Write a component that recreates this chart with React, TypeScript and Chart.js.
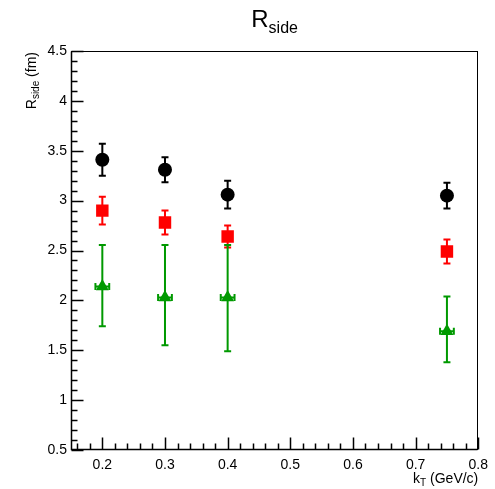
import { useEffect, useRef } from 'react';
import { Chart, registerables } from 'chart.js';

Chart.register(...registerables);

const kT = [0.2, 0.3, 0.4, 0.75];

const blackR = [3.41, 3.31, 3.06, 3.05];
const blackErr = [0.16, 0.125, 0.14, 0.13];

const redR = [2.9, 2.78, 2.64, 2.49];
const redErr = [0.14, 0.12, 0.11, 0.12];

const greenR = [2.14, 2.03, 2.03, 1.69];
const greenErrLow = [0.4, 0.48, 0.54, 0.31];
const greenErrHigh = [0.415, 0.525, 0.525, 0.35];
const greenXErr = [0.011, 0.011, 0.011, 0.011];

const xTicks = [0.2, 0.3, 0.4, 0.5, 0.6, 0.7, 0.8];
const yTicks = [0.5, 1, 1.5, 2, 2.5, 3, 3.5, 4, 4.5];
const xMinorStep = 0.02;
const yMinorStep = 0.1;

const FONT = '"Liberation Sans", Arial, Helvetica, sans-serif';

const fmt = (v: number) => String(parseFloat(v.toFixed(3)));

const rootPlugin = {
  id: 'rootStyle',
  beforeDatasetsDraw(chart: any) {
    const ctx = chart.ctx;
    const xs = chart.scales.x;
    const ys = chart.scales.y;
    chart.data.datasets.forEach((ds: any) => {
      const lo: number[] = ds.errLow;
      const hi: number[] = ds.errHigh;
      const xe: number[] | undefined = ds.xErr;
      ctx.save();
      ctx.strokeStyle = ds.borderColor;
      ctx.lineWidth = 2;
      ds.data.forEach((p: any, i: number) => {
        const px = xs.getPixelForValue(p.x);
        const py = ys.getPixelForValue(p.y);
        const pTop = ys.getPixelForValue(p.y + hi[i]);
        const pBot = ys.getPixelForValue(p.y - lo[i]);
        ctx.beginPath();
        ctx.moveTo(px, pTop);
        ctx.lineTo(px, pBot);
        ctx.moveTo(px - 3.5, pTop);
        ctx.lineTo(px + 3.5, pTop);
        ctx.moveTo(px - 3.5, pBot);
        ctx.lineTo(px + 3.5, pBot);
        if (xe) {
          const pl = xs.getPixelForValue(p.x - xe[i]);
          const pr = xs.getPixelForValue(p.x + xe[i]);
          ctx.moveTo(pl, py);
          ctx.lineTo(pr, py);
          ctx.moveTo(pl, py - 3.5);
          ctx.lineTo(pl, py + 3.5);
          ctx.moveTo(pr, py - 3.5);
          ctx.lineTo(pr, py + 3.5);
        }
        ctx.stroke();
      });
      ctx.restore();
    });
  },
  afterDraw(chart: any) {
    const ctx = chart.ctx;
    const xs = chart.scales.x;
    const ys = chart.scales.y;
    const a = chart.chartArea;
    ctx.save();
    ctx.strokeStyle = '#000';
    ctx.lineWidth = 1;
    const L = Math.round(a.left) + 0.5;
    const R = Math.round(a.right) - 0.5;
    const T = Math.round(a.top) + 0.5;
    const B = Math.round(a.bottom) - 0.5;
    ctx.strokeRect(L, T, R - L, B - T);
    ctx.lineWidth = 1.5;
    ctx.beginPath();
    ctx.moveTo(L, T);
    ctx.lineTo(L, B);
    ctx.lineTo(R, B);
    ctx.stroke();

    ctx.lineWidth = 1.5;
    ctx.beginPath();
    // y ticks
    const yMin = ys.min, yMax = ys.max;
    for (let k = 0; ; k++) {
      const v = yMin + k * yMinorStep;
      if (v > yMax + 1e-9) break;
      const major = yTicks.some((t) => Math.abs(t - v) < 1e-6);
      const py = Math.round(ys.getPixelForValue(v)) + 0.5;
      ctx.moveTo(L, py);
      ctx.lineTo(L + (major ? 12 : 6), py);
    }
    // x ticks
    const xStart = Math.ceil((xs.min - 1e-9) / xMinorStep) * xMinorStep;
    for (let k = 0; ; k++) {
      const v = xStart + k * xMinorStep;
      if (v > xs.max + 1e-9) break;
      const major = xTicks.some((t) => Math.abs(t - v) < 1e-6);
      const px = Math.round(xs.getPixelForValue(v)) + 0.5;
      ctx.moveTo(px, B);
      ctx.lineTo(px, B - (major ? 12 : 6));
    }
    ctx.stroke();

    ctx.fillStyle = '#000';
    // Title R_side
    const cx = (a.left + a.right) / 2;
    ctx.font = `24px ${FONT}`;
    const wR = ctx.measureText('R').width;
    ctx.font = `16px ${FONT}`;
    const wS = ctx.measureText('side').width;
    const tx = cx - (wR + wS) / 2;
    ctx.textBaseline = 'alphabetic';
    ctx.textAlign = 'left';
    ctx.font = `24px ${FONT}`;
    ctx.fillText('R', tx, 27);
    ctx.font = `16px ${FONT}`;
    ctx.fillText('side', tx + wR, 33);

    // X title k_T (GeV/c)
    ctx.font = `14px ${FONT}`;
    const wk = ctx.measureText('k').width;
    const wRest = ctx.measureText(' (GeV/c)').width;
    ctx.font = `10px ${FONT}`;
    const wT = ctx.measureText('T').width;
    const xr = a.right;
    let xx = xr - (wk + wT + wRest);
    ctx.font = `14px ${FONT}`;
    ctx.fillText('k', xx, 483);
    xx += wk;
    ctx.font = `10px ${FONT}`;
    ctx.fillText('T', xx, 486);
    xx += wT;
    ctx.font = `14px ${FONT}`;
    ctx.fillText(' (GeV/c)', xx, 483);

    // Y title R_side (fm) rotated
    ctx.translate(36, a.top + 1);
    ctx.rotate(-Math.PI / 2);
    ctx.font = `14px ${FONT}`;
    const yR = ctx.measureText('R').width;
    const yFm = ctx.measureText(' (fm)').width;
    ctx.font = `10px ${FONT}`;
    const ySide = ctx.measureText('side').width;
    let yy = -(yR + ySide + yFm);
    ctx.font = `14px ${FONT}`;
    ctx.fillText('R', yy, 0);
    yy += yR;
    ctx.font = `10px ${FONT}`;
    ctx.fillText('side', yy, 3);
    yy += ySide;
    ctx.font = `14px ${FONT}`;
    ctx.fillText(' (fm)', yy, 0);
    ctx.restore();
  },
};

export default function App() {
  const ref = useRef<HTMLCanvasElement>(null);
  useEffect(() => {
    if (!ref.current) return;
    const mk = (ys: number[]) => kT.map((x, i) => ({ x, y: ys[i] }));
    const chart = new Chart(ref.current, {
      type: 'scatter',
      data: {
        datasets: [
          {
            label: 'black',
            data: mk(blackR),
            errLow: blackErr,
            errHigh: blackErr,
            pointStyle: 'circle',
            radius: 7,
            backgroundColor: '#000000',
            borderColor: '#000000',
            borderWidth: 0,
          } as any,
          {
            label: 'red',
            data: mk(redR),
            errLow: redErr,
            errHigh: redErr,
            pointStyle: 'rect',
            radius: 8.8,
            backgroundColor: '#ff0000',
            borderColor: '#ff0000',
            borderWidth: 0,
          } as any,
          {
            label: 'green',
            data: mk(greenR),
            errLow: greenErrLow,
            errHigh: greenErrHigh,
            xErr: greenXErr,
            pointStyle: 'triangle',
            radius: 7.5,
            backgroundColor: '#009900',
            borderColor: '#009900',
            borderWidth: 0,
          } as any,
        ],
      },
      options: {
        responsive: false,
        animation: false,
        layout: { padding: { top: 51, right: 14, left: 0, bottom: 0 } },
        plugins: {
          legend: { display: false },
          tooltip: { enabled: false },
          title: { display: false },
        },
        scales: {
          x: {
            type: 'linear',
            min: 0.15,
            max: 0.8,
            border: { display: false },
            grid: { display: false, drawTicks: false },
            afterBuildTicks: (s: any) => {
              s.ticks = xTicks.map((v) => ({ value: v }));
            },
            afterFit: (s: any) => {
              s.height = 39;
            },
            ticks: {
              autoSkip: false,
              maxRotation: 0,
              padding: 7,
              color: '#000',
              font: { family: FONT, size: 14 },
              callback: (v: any) => fmt(Number(v)),
            },
          },
          y: {
            type: 'linear',
            min: 0.5,
            max: 4.5,
            border: { display: false },
            grid: { display: false, drawTicks: false },
            afterBuildTicks: (s: any) => {
              s.ticks = yTicks.map((v) => ({ value: v }));
            },
            afterFit: (s: any) => {
              s.width = 71;
            },
            ticks: {
              autoSkip: false,
              padding: 4,
              color: '#000',
              font: { family: FONT, size: 14 },
              callback: (v: any) => fmt(Number(v)),
            },
          },
        },
      },
      plugins: [rootPlugin],
    });
    return () => chart.destroy();
  }, []);
  return (
    <div style={{ position: 'absolute', left: 0, top: 0, width: 495, height: 489, background: '#fff' }}>
      <canvas ref={ref} width={495} height={489} style={{ display: 'block' }} />
    </div>
  );
}
